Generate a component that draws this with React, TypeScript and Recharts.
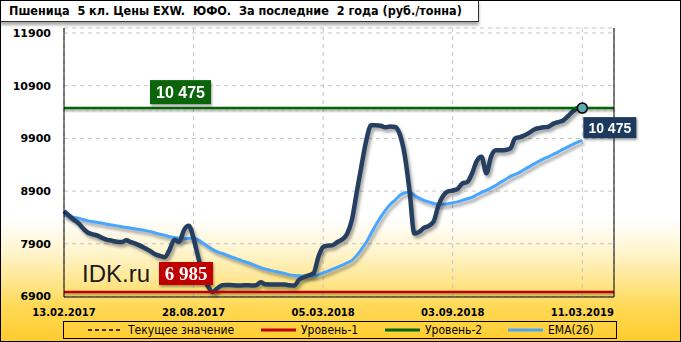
import {
  CartesianGrid,
  ComposedChart,
  Line,
  ReferenceDot,
  ReferenceLine,
  XAxis,
  YAxis,
} from "recharts";

const title = "Пшеница  5 кл. Цены EXW.  ЮФО.  За последние  2 года (руб./тонна)";

const dateLabels = ["13.02.2017", "28.08.2017", "05.03.2018", "03.09.2018", "11.03.2019"];
const dateTickIdx = [0, 27, 54, 81, 108];
const yTicks = [6900, 7900, 8900, 9900, 10900, 11900];

const level1 = 6985;
const level2 = 10475;

// weekly prices, rub/t
const price = [
  8520, 8440, 8360, 8290, 8190, 8110, 8080, 8055, 8010, 7975,
  7960, 7940, 7935, 7965, 7930, 7900, 7860, 7810, 7760, 7700,
  7670, 7645, 7790, 7975, 7940, 8160, 8240, 8000, 7630, 7300,
  7090, 6985, 7060, 7115, 7120, 7115, 7110, 7110, 7115, 7110,
  7115, 7170, 7130, 7128, 7128, 7128, 7125, 7115, 7110, 7220,
  7265, 7300, 7340, 7650, 7840, 7865, 7875, 7935, 7985, 8090,
  8360, 8880, 9390, 9870, 10150, 10150, 10140, 10110, 10125, 10115,
  9970, 9580, 8900, 8095, 8125, 8200, 8240, 8320, 8620, 8810,
  8895, 8910, 8940, 9045, 9070, 9230, 9470, 9550, 9240, 9560,
  9674, 9674, 9680, 9710, 9900, 9925, 9960, 10010, 10070, 10095,
  10110, 10125, 10180, 10210, 10240, 10320, 10410, 10470, 10475,
];

const ema26 = [
  8440, 8420, 8400, 8385, 8360, 8335, 8320, 8305, 8290, 8270,
  8255, 8240, 8225, 8210, 8195, 8180, 8165, 8150, 8130, 8105,
  8080, 8060, 8035, 8020, 8005, 7995, 8000, 8008, 7970, 7910,
  7850, 7790, 7745, 7715, 7680, 7645, 7615, 7580, 7550, 7520,
  7480, 7445, 7420, 7395, 7375, 7355, 7335, 7310, 7298, 7293,
  7290, 7288, 7288, 7310, 7345, 7380, 7420, 7455, 7495, 7540,
  7585, 7680, 7800, 7930, 8100, 8260, 8410, 8540, 8650, 8730,
  8820, 8870, 8880, 8820, 8765, 8725, 8695, 8665, 8650, 8648,
  8660, 8680, 8695, 8725, 8755, 8780, 8830, 8875, 8915, 8960,
  9010, 9070, 9120, 9180, 9215, 9260, 9315, 9365, 9420, 9470,
  9515, 9555, 9600, 9645, 9695, 9740, 9785, 9830, 9864,
];

const legendItems = [
  { name: "Текущее значение", color: "#000000", dashed: true },
  { name: "Уровень-1", color: "#c00000", dashed: false },
  { name: "Уровень-2", color: "#006600", dashed: false },
  { name: "EMA(26)", color: "#4aa5ff", dashed: false },
];

const data = price.map((v, i) => ({ i, price: v, ema: ema26[i] }));
const lastIdx = price.length - 1;
const current = price[lastIdx];

const fmt = (v: number) => String(v).replace(/\B(?=(\d{3})+(?!\d))/g, " ");

const GreenTag = ({ viewBox }: any) => {
  const { x, y } = viewBox;
  return (
    <g style={{ filter: "drop-shadow(1px 2px 1px rgba(0,0,0,0.35))" }}>
      <rect x={x + 86} y={y - 28} width={61} height={24} fill="#0a640a" />
      <text x={x + 116.5} y={y - 10} textAnchor="middle" fill="#fff" fontSize={16} fontWeight="bold" fontFamily="Liberation Sans, Arial">
        {fmt(level2)}
      </text>
    </g>
  );
};

const RedTag = ({ viewBox }: any) => {
  const { x, y } = viewBox;
  return (
    <g style={{ filter: "drop-shadow(1px 2px 1px rgba(0,0,0,0.35))" }}>
      <rect x={x + 95} y={y - 30} width={54} height={23} fill="#c00000" />
      <text x={x + 122} y={y - 12} textAnchor="middle" fill="#fff" fontSize={19} fontWeight="bold" fontFamily="Liberation Serif, serif">
        {fmt(level1)}
      </text>
    </g>
  );
};

const NavyTag = ({ viewBox }: any) => {
  const x = viewBox.x + viewBox.width / 2;
  const y = viewBox.y + viewBox.height / 2;
  return (
    <g style={{ filter: "drop-shadow(1px 2px 1px rgba(0,0,0,0.35))" }}>
      <rect x={x + 1} y={y + 9} width={53} height={21} fill="#1c3a5e" />
      <text x={x + 27.5} y={y + 24.5} textAnchor="middle" fill="#fff" fontSize={14} fontWeight="bold" fontFamily="Liberation Sans, Arial">
        {fmt(current)}
      </text>
    </g>
  );
};

const DateTick = ({ x, y, payload }: any) => (
  <text x={x} y={y + 17} textAnchor="middle" fill="#000" fontSize={10} fontWeight="bold" fontFamily="DejaVu Sans">
    {dateLabels[dateTickIdx.indexOf(payload.value)] ?? ""}
  </text>
);

const axisTick = { fill: "#000", fontSize: 11, fontWeight: "bold", fontFamily: "DejaVu Sans" };

export default function App() {
  return (
    <div
      style={{
        position: "relative",
        width: 681,
        height: 342,
        boxSizing: "border-box",
        border: "1px solid #000",
        background:
          "linear-gradient(180deg, #ffffff 0%, #ffffff 64%, #fff4cc 74%, #ffd955 90%, #ffcc2e 100%)",
        overflow: "hidden",
      }}
    >
      <style>{`
        body { margin: 0; }
        .recharts-line .recharts-curve { filter: drop-shadow(2px 3px 1.5px rgba(0,0,0,0.35)); }
        .recharts-reference-line-line { filter: drop-shadow(0px 2px 1px rgba(0,0,0,0.3)); }
      `}</style>
      <div style={{ position: "absolute", left: -1, top: -1 }}>
        <ComposedChart width={681} height={342} data={data} margin={{ top: 28, right: 0, left: 0, bottom: 0 }}>
          <CartesianGrid yAxisId="left" stroke="#c4c4c4" strokeDasharray="4 4" />
          <XAxis
            dataKey="i"
            type="number"
            domain={[0, 114.6]}
            ticks={dateTickIdx}
            height={45}
            axisLine={{ stroke: "#000", strokeWidth: 1 }}
            tickLine={false}
            tickSize={0}
            tick={<DateTick />}
            interval={0}
          />
          <XAxis xAxisId="top" orientation="top" dataKey="i" type="number" domain={[0, 114.6]} height={0} tick={false} tickLine={false} axisLine={{ stroke: "#000" }} />
          <YAxis
            yAxisId="left"
            width={64}
            domain={[6890, 11995]}
            ticks={yTicks}
            axisLine={{ stroke: "#000" }}
            tickLine={false}
            tickSize={0}
            tickMargin={13}
            tick={axisTick}
            interval={0}
          />
          <YAxis
            yAxisId="right"
            orientation="right"
            width={67}
            domain={[6890, 11995]}
            ticks={yTicks}
            axisLine={{ stroke: "#000" }}
            tickLine={false}
            tickSize={0}
            tickMargin={14}
            tick={axisTick}
            interval={0}
          />
          <ReferenceLine yAxisId="left" y={current} stroke="#000" strokeDasharray="4 3" strokeWidth={1} />
          <Line yAxisId="left" type="monotone" dataKey="ema" stroke="#4aa5ff" strokeWidth={3} dot={false} isAnimationActive={false} />
          <Line yAxisId="left" type="monotone" dataKey="price" stroke="#243f60" strokeWidth={4.5} dot={false} isAnimationActive={false} />
          <ReferenceLine yAxisId="left" y={level2} stroke="#006600" strokeWidth={2.5} label={<GreenTag />} />
          <ReferenceLine yAxisId="left" y={level1} stroke="#c00000" strokeWidth={2.5} label={<RedTag />} />
          <ReferenceDot
            yAxisId="left"
            x={lastIdx}
            y={current}
            r={5}
            fill="#5fa9b6"
            stroke="#000"
            strokeWidth={1.5}
            label={<NavyTag />}
          />
          <text x={82} y={282} fontSize={24} fontFamily="Liberation Sans, Arial" fill="#1a1a1a">
            IDK.ru
          </text>
        </ComposedChart>
      </div>

      <div
        style={{
          position: "absolute",
          left: -1,
          top: -1,
          width: 479,
          height: 22,
          boxSizing: "border-box",
          background: "#fff",
          border: "1px solid #333",
          boxShadow: "0 3px 3px rgba(0,0,0,0.35)",
          fontFamily: "DejaVu Sans Condensed, DejaVu Sans",
          fontWeight: "bold",
          fontSize: 12.5,
          lineHeight: "20px",
          paddingLeft: 8,
          whiteSpace: "pre",
        }}
      >
        {title}
      </div>

      <div
        style={{
          position: "absolute",
          left: 62,
          top: 320,
          width: 554,
          height: 18,
          boxSizing: "border-box",
          border: "1px solid #000",
          fontFamily: "DejaVu Sans Condensed, DejaVu Sans",
          fontSize: 12,
        }}
      >
        {legendItems.map((it, k) => (
          <div
            key={it.name}
            style={{ position: "absolute", left: [24, 197, 321, 444][k], top: 0, height: 16, display: "flex", alignItems: "center", whiteSpace: "nowrap" }}
          >
            <svg width={36} height={6} style={{ marginRight: 4 }}>
              <line
                x1={0}
                x2={35}
                y1={3}
                y2={3}
                stroke={it.color}
                strokeWidth={it.dashed ? 1.5 : 3}
                strokeDasharray={it.dashed ? "4 3" : undefined}
              />
            </svg>
            <span>{it.name}</span>
          </div>
        ))}
      </div>
    </div>
  );
}
